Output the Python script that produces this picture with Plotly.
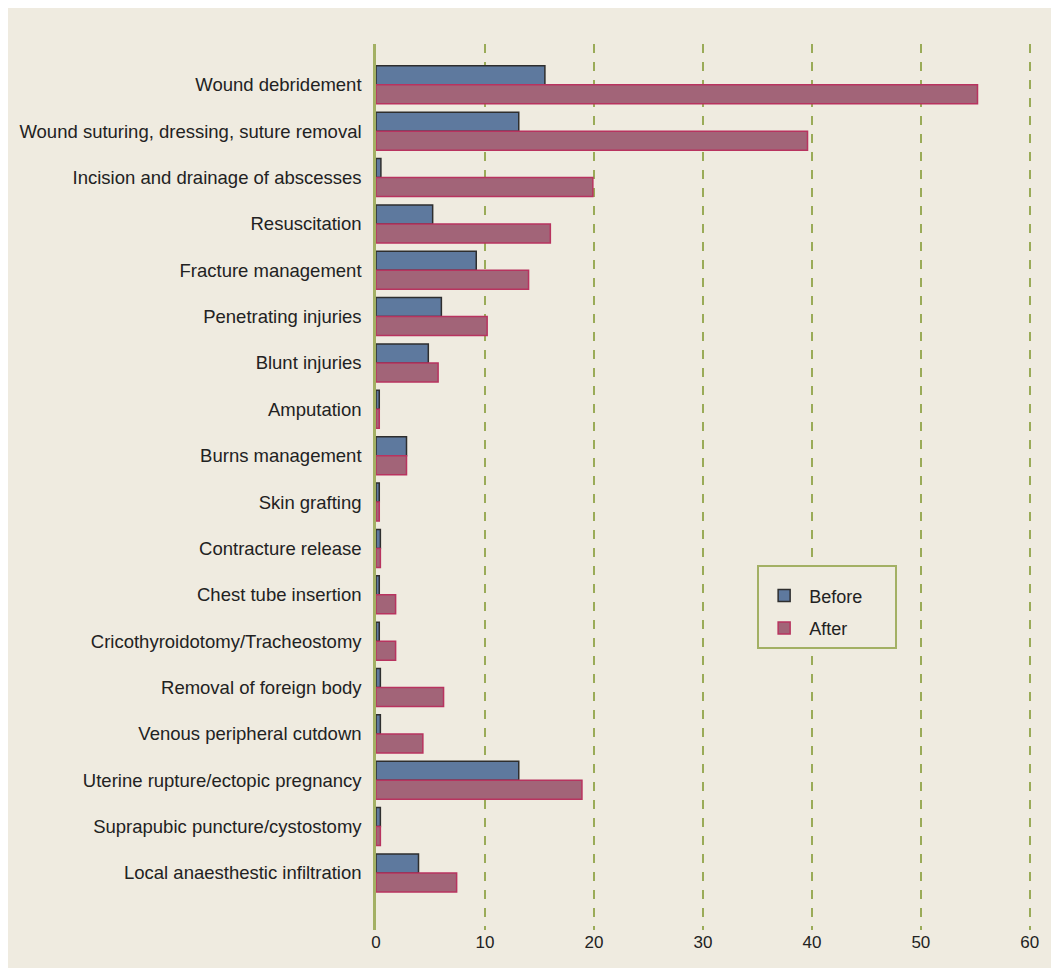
import plotly.graph_objects as go

categories = [
    "Wound debridement",
    "Wound suturing, dressing, suture removal",
    "Incision and drainage of abscesses",
    "Resuscitation",
    "Fracture management",
    "Penetrating injuries",
    "Blunt injuries",
    "Amputation",
    "Burns management",
    "Skin grafting",
    "Contracture release",
    "Chest tube insertion",
    "Cricothyroidotomy/Tracheostomy",
    "Removal of foreign body",
    "Venous peripheral cutdown",
    "Uterine rupture/ectopic pregnancy",
    "Suprapubic puncture/cystostomy",
    "Local anaesthestic infiltration",
]
before = [15.5, 13.1, 0.45, 5.2, 9.2, 6.0, 4.8, 0.3, 2.8, 0.3, 0.4, 0.3, 0.3, 0.4, 0.4, 13.1, 0.4, 3.9]
after = [55.2, 39.6, 19.9, 16.0, 14.0, 10.2, 5.7, 0.3, 2.8, 0.3, 0.4, 1.8, 1.8, 6.2, 4.3, 18.9, 0.4, 7.4]
x_ticks = [0, 10, 20, 30, 40, 50, 60]

beige = "#efebe0"
olive = "#a3b064"

fig = go.Figure()
fig.add_trace(go.Bar(
    y=categories, x=before, name="Before", orientation="h", legendgroup="b",
    marker=dict(color="#5e799e", line=dict(color="#2e2e2e", width=1.5)),
))
fig.add_trace(go.Bar(
    y=categories, x=after, name="After", orientation="h", legendgroup="a",
    marker=dict(color="#a26478", line=dict(color="#b8335f", width=1.5)),
))

# page has an 8px body margin, so the figure is sized to fill the rest
fig.update_layout(
    width=1051, height=960,
    paper_bgcolor=beige, plot_bgcolor=beige,
    margin=dict(l=368, r=27, t=36, b=38),
    barmode="group", bargap=0.18, bargroupgap=0.0,
    font=dict(family="Liberation Sans, Arial, sans-serif", size=18.5, color="#222222"),
    legend=dict(
        x=0.581, y=0.412, xanchor="left", yanchor="top",
        bgcolor=beige, bordercolor=olive, borderwidth=2,
        font=dict(size=18), itemwidth=40, tracegroupgap=6,
        # blank title just pads the box like the original
        title=dict(text="&nbsp;" * 59, font=dict(size=8)),
    ),
    showlegend=True,
)
fig.update_xaxes(
    range=[0, 60.2], tickvals=x_ticks, showline=False, zeroline=False,
    showgrid=True, gridcolor="#9aab58", griddash="dash", gridwidth=2,
    ticks="", tickfont=dict(size=17),
)
fig.update_yaxes(
    autorange=False, range=[18.23, -0.88],
    showline=True, linecolor=olive, linewidth=2.5,
    showgrid=False, ticks="", ticklabelstandoff=8,
)

fig.write_html("out.html")
